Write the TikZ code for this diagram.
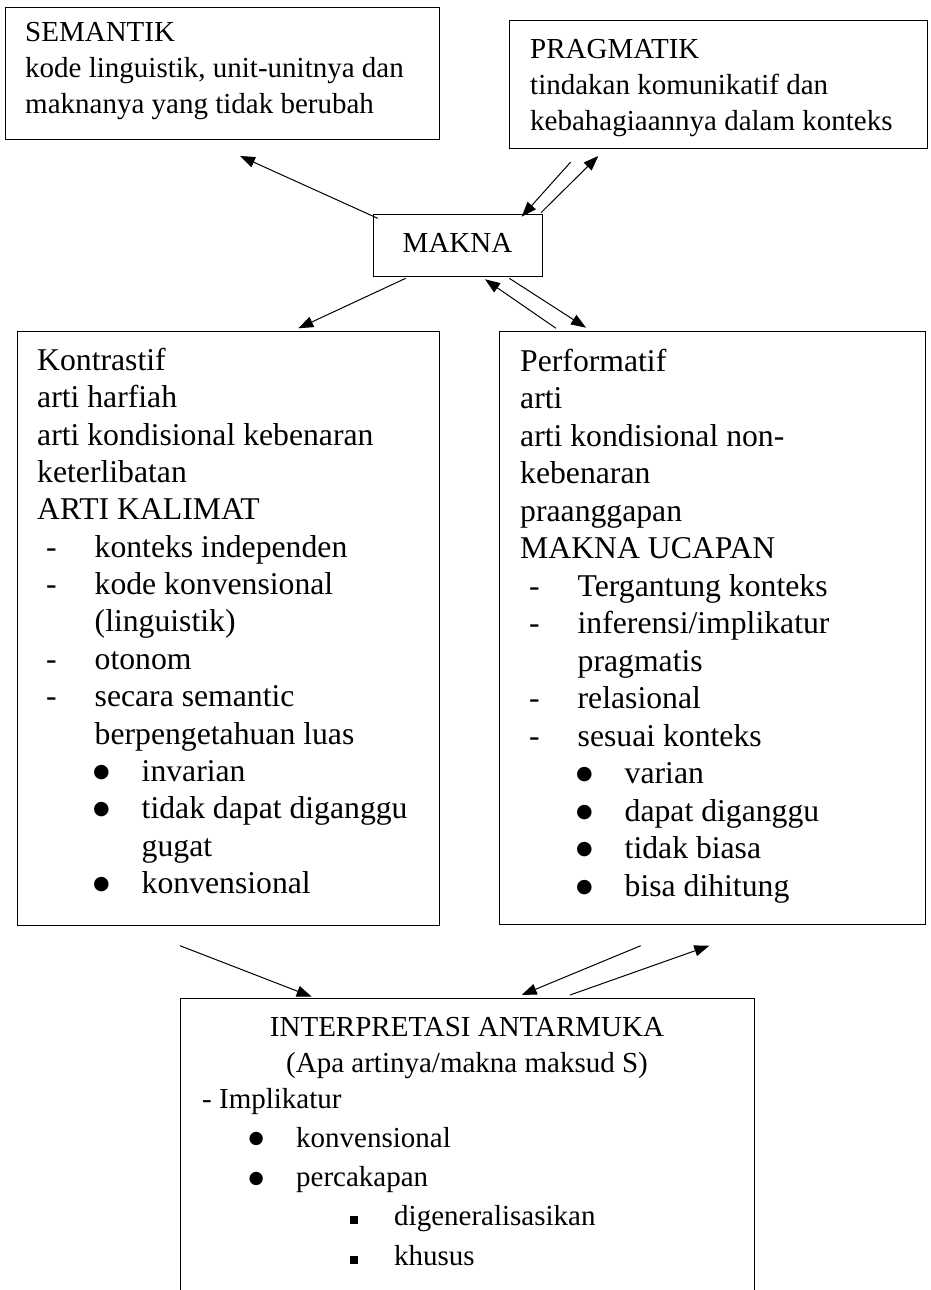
\documentclass[tikz,border=0pt]{standalone}
\usepackage{fontspec}
\setmainfont{Liberation Serif}
\newfontfamily\bulfont{DejaVu Sans}
\usetikzlibrary{arrows.meta}
\newcommand{\bigbul}{\raisebox{3.8pt}{\bulfont\fontsize{19}{19}\selectfont ●}}
\newcommand{\smbul}{\raisebox{3.5pt}{\bulfont\fontsize{17.5}{17.5}\selectfont ●}}
\newcommand{\itemdash}[1]{\makebox[57.5pt][l]{\hspace{9pt}-}#1}
\newcommand{\itemcont}[1]{\hspace*{57.5pt}#1}
\newcommand{\itembul}[1]{\makebox[104.5pt][l]{\hspace{56pt}\bigbul}#1}
\newcommand{\itembulcont}[1]{\hspace*{104.5pt}#1}
\newcommand{\itembulb}[1]{\makebox[94pt][l]{\hspace{46.5pt}\smbul}#1}
\newcommand{\itemsq}[1]{\makebox[192pt][l]{\hspace{148pt}\raisebox{1.5pt}{\rule{7.5pt}{8pt}}}#1}
\newcommand{\bigfont}{\fontsize{31.7}{37.35}\selectfont}
\newcommand{\smallfont}{\fontsize{29}{35.5}\selectfont}
\tikzset{
  box/.style={draw, line width=1.2pt, rectangle, inner sep=0pt, anchor=north west},
  txt/.style={inner sep=0pt, anchor=base west},
  conn/.style={line width=1pt, -{Triangle[length=15pt,width=11pt]}},
}
\begin{document}
\begin{tikzpicture}[x=1pt,y=-1pt]
\useasboundingbox (0,0) rectangle (931,1290);
\clip (0,0) rectangle (931,1290);
\fill[white] (0,0) rectangle (931,1290);

% boxes
\node[box, minimum width=434pt, minimum height=132pt] (sem) at (5,7) {};
\node[box, minimum width=418pt, minimum height=128pt] (prag) at (509,20) {};
\node[box, minimum width=169pt, minimum height=62pt] (makna) at (373,214) {};
\node[box, minimum width=422.3pt, minimum height=594pt] (left) at (16.7,331) {};
\node[box, minimum width=426pt, minimum height=593pt] (right) at (499,331) {};
\node[box, minimum width=574pt, minimum height=330pt] (interp) at (180,998) {};

% texts
\node[txt] (semtxt) at (25,42) {\begin{minipage}[t]{420pt}\smallfont
SEMANTIK\\
kode linguistik, unit-unitnya dan\\
maknanya yang tidak berubah\end{minipage}};

\node[txt] (pragtxt) at (530,59) {\begin{minipage}[t]{410pt}\fontsize{29}{36}\selectfont
PRAGMATIK\\
tindakan komunikatif dan\\
kebahagiaannya dalam konteks\end{minipage}};

\node[inner sep=0pt, anchor=base] (maknatxt) at (457.5,252) {\smallfont MAKNA};

\node[txt] (lefttxt) at (37,370.5) {\begin{minipage}[t]{400pt}\bigfont
Kontrastif\\
arti harfiah\\
arti kondisional kebenaran\\
keterlibatan\\
ARTI KALIMAT\\
\itemdash{konteks independen}\\
\itemdash{kode konvensional}\\
\itemcont{(linguistik)}\\
\itemdash{otonom}\\
\itemdash{secara semantic}\\
\itemcont{berpengetahuan luas}\\
\itembul{invarian}\\
\itembul{tidak dapat diganggu}\\
\itembulcont{gugat}\\
\itembul{konvensional}\end{minipage}};

\node[txt] (righttxt) at (520,371) {\begin{minipage}[t]{400pt}\fontsize{31.7}{37.5}\selectfont
Performatif\\
arti\\
arti kondisional non-\\
kebenaran\\
praanggapan\\
MAKNA UCAPAN\\
\itemdash{Tergantung konteks}\\
\itemdash{inferensi/implikatur}\\
\itemcont{pragmatis}\\
\itemdash{relasional}\\
\itemdash{sesuai konteks}\\
\itembul{varian}\\
\itembul{dapat diganggu}\\
\itembul{tidak biasa}\\
\itembul{bisa dihitung}\end{minipage}};

\node[inner sep=0pt, anchor=base] (interpt1) at (467,1036) {\smallfont INTERPRETASI ANTARMUKA};
\node[inner sep=0pt, anchor=base] (interpt2) at (467,1072) {\smallfont (Apa artinya/makna maksud S)};
\node[txt] (interptxt) at (202,1108) {\begin{minipage}[t]{500pt}\fontsize{29}{39.3}\selectfont
- Implikatur\\
\itembulb{konvensional}\\
\itembulb{percakapan}\\
\itemsq{digeneralisasikan}\\
\itemsq{khusus}\end{minipage}};

% connector end points
\coordinate (a1s) at (377.7,218.3); \coordinate (a1e) at (240,156);
\coordinate (a2s) at (570.7,162);   \coordinate (a2e) at (521.7,216.7);
\coordinate (a3s) at (541,212.7);   \coordinate (a3e) at (598.3,156);
\coordinate (a4s) at (405.7,278.3); \coordinate (a4e) at (298.3,328.3);
\coordinate (a5s) at (556,328.3);   \coordinate (a5e) at (485,279.3);
\coordinate (a6s) at (509.3,278.3); \coordinate (a6e) at (586,327.7);
\coordinate (a7s) at (180,945.7);   \coordinate (a7e) at (311.7,996.7);
\coordinate (a8s) at (640.7,945.7); \coordinate (a8e) at (521.7,995);
\coordinate (a9s) at (570,995);     \coordinate (a9e) at (709.3,945.7);

\draw[conn] (a1s) -- (a1e);
\draw[conn] (a2s) -- (a2e);
\draw[conn] (a3s) -- (a3e);
\draw[conn] (a4s) -- (a4e);
\draw[conn] (a5s) -- (a5e);
\draw[conn] (a6s) -- (a6e);
\draw[conn] (a7s) -- (a7e);
\draw[conn] (a8s) -- (a8e);
\draw[conn] (a9s) -- (a9e);
\end{tikzpicture}
\end{document}
